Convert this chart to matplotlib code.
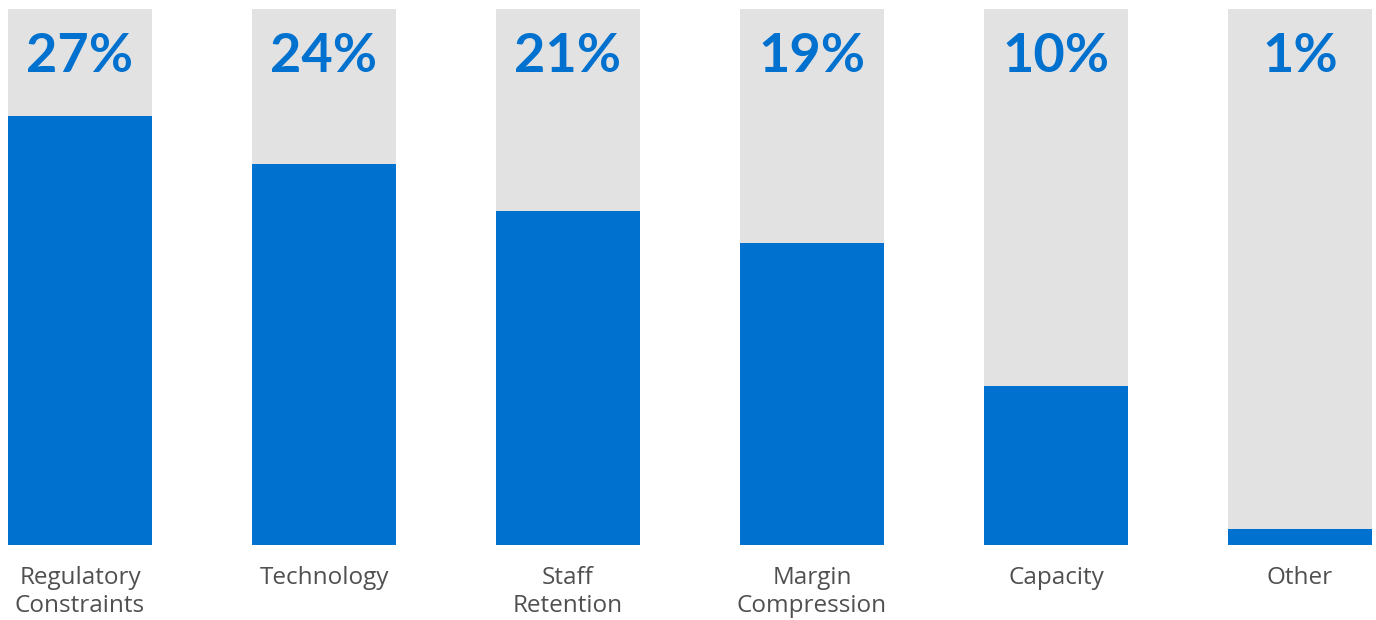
import matplotlib.pyplot as plt

# Chart data
categories = ["Regulatory\nConstraints", "Technology", "Staff\nRetention",
              "Margin\nCompression", "Capacity", "Other"]
values = [27, 24, 21, 19, 10, 1]
labels = ["27%", "24%", "21%", "19%", "10%", "1%"]

blue = "#0071CE"
gray = "#E2E2E2"
scale_max = 33.75  # full height of the grey track

fig = plt.figure(figsize=(13.76, 6.2), dpi=100)
ax = fig.add_axes([8 / 1376, 75 / 620, 1364 / 1376, 536 / 620])

x = range(len(values))
width = 0.59
ax.bar(x, [scale_max] * len(values), width=width, color=gray)
ax.bar(x, values, width=width, color=blue)

ax.set_xlim(-width / 2, len(values) - 1 + width / 2)
ax.set_ylim(0, scale_max)
ax.axis("off")

for i, lab in enumerate(labels):
    ax.text(i, scale_max - 3.0, lab, ha="center", va="center",
            fontsize=39, fontweight="bold", family="Lato", color=blue)
    ax.text(i, -1.3, categories[i], ha="center", va="top",
            fontsize=17.5, family="Open Sans", color="#505050",
            linespacing=1.25)

fig.savefig("out.png", dpi=100)
